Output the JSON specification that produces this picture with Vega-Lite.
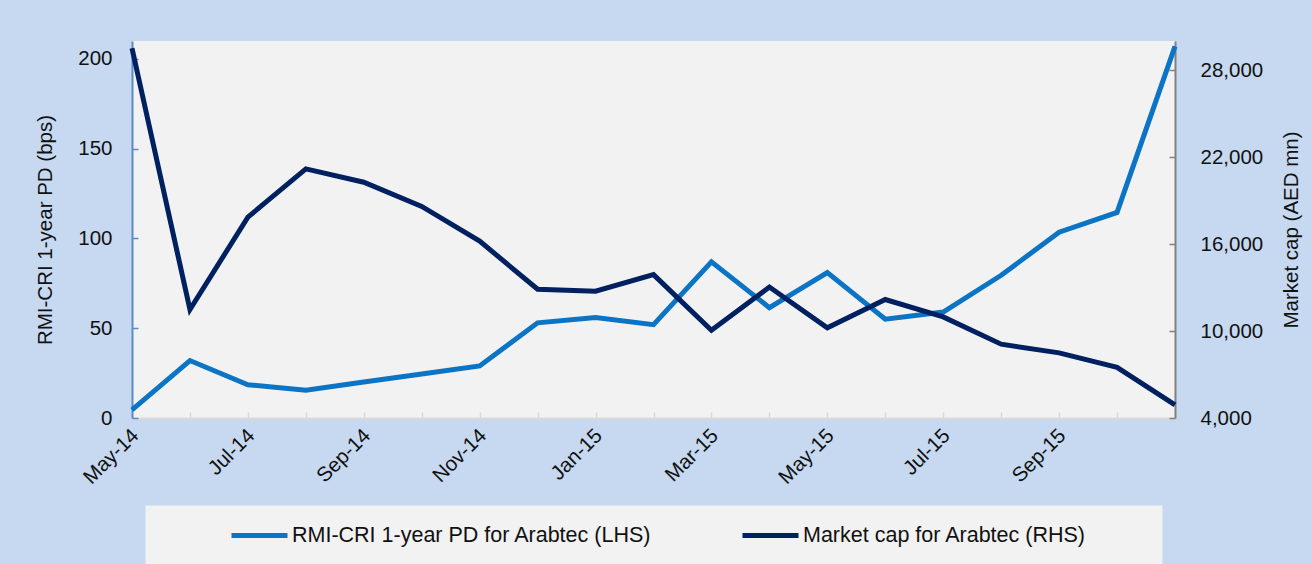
{
  "$schema": "https://vega.github.io/schema/vega-lite/v6.json",
  "width": 1043,
  "height": 377,
  "autosize": {"type": "none"},
  "padding": {"left": 132, "top": 41, "right": 137, "bottom": 146},
  "background": "#c6d9f0",
  "config": {
    "view": {"fill": "#f2f2f2", "stroke": null},
    "font": "Liberation Sans",
    "axis": {
      "labelFont": "Liberation Sans",
      "titleFont": "Liberation Sans",
      "labelFontSize": 20.5,
      "titleFontSize": 20.5,
      "labelColor": "#111111",
      "titleColor": "#111111",
      "titleFontWeight": "normal",
      "grid": false
    }
  },
  "data": {
    "values": [
      {"month": "May-14", "pd": 4.5, "mcap": 29500},
      {"month": "Jun-14", "pd": 32, "mcap": 11480},
      {"month": "Jul-14", "pd": 18.5, "mcap": 17850},
      {"month": "Aug-14", "pd": 15.5, "mcap": 21180},
      {"month": "Sep-14", "pd": 20, "mcap": 20260},
      {"month": "Oct-14", "pd": 24.5, "mcap": 18590},
      {"month": "Nov-14", "pd": 29, "mcap": 16200},
      {"month": "Dec-14", "pd": 53, "mcap": 12880},
      {"month": "Jan-15", "pd": 56, "mcap": 12740},
      {"month": "Feb-15", "pd": 52, "mcap": 13890},
      {"month": "Mar-15", "pd": 87, "mcap": 10050},
      {"month": "Apr-15", "pd": 61.5, "mcap": 13030},
      {"month": "May-15", "pd": 81, "mcap": 10220},
      {"month": "Jun-15", "pd": 55, "mcap": 12170},
      {"month": "Jul-15", "pd": 59, "mcap": 10970},
      {"month": "Aug-15", "pd": 79.5, "mcap": 9090},
      {"month": "Sep-15", "pd": 103.5, "mcap": 8490},
      {"month": "Oct-15", "pd": 114.5, "mcap": 7490},
      {"month": "Nov-15", "pd": 207, "mcap": 4900}
    ]
  },
  "encoding": {
    "x": {
      "field": "month",
      "type": "ordinal",
      "sort": null,
      "scale": {"type": "point", "padding": 0},
      "axis": {
        "title": null,
        "labelAngle": -45,
        "labelExpr": "indexof(['May-14','Jul-14','Sep-14','Nov-14','Jan-15','Mar-15','May-15','Jul-15','Sep-15'], datum.value) >= 0 ? datum.value : ''",
        "domainColor": "#d9d9d9",
        "domainWidth": 2,
        "tickColor": "#d9d9d9",
        "tickWidth": 1.5,
        "tickSize": -6,
        "labelPadding": 13,
        "labelOffset": -4
      }
    }
  },
  "layer": [
    {
      "mark": {"type": "line", "strokeWidth": 5},
      "encoding": {
        "y": {
          "field": "pd",
          "type": "quantitative",
          "scale": {"domain": [0, 210], "nice": false},
          "axis": {
            "title": "RMI-CRI 1-year PD (bps)",
            "values": [0, 50, 100, 150, 200],
            "domainColor": "#5b8bc9",
            "domainWidth": 2,
            "tickColor": "#5b8bc9",
            "tickWidth": 1.5,
            "tickSize": -6,
            "labelPadding": 26,
            "titlePadding": 22
          }
        },
        "color": {
          "datum": "RMI-CRI 1-year PD for Arabtec (LHS)",
          "type": "nominal",
          "scale": {
            "domain": ["RMI-CRI 1-year PD for Arabtec (LHS)", "Market cap for Arabtec (RHS)"],
            "range": ["#0b74c4", "#002060"]
          },
          "legend": {
            "orient": "none",
            "legendX": 13,
            "legendY": 464,
            "direction": "horizontal",
            "title": "\u00a0",
            "titleOrient": "right",
            "titleFontSize": 53,
            "titleBaseline": "top",
            "titlePadding": 76,
            "fillColor": "#f2f2f2",
            "strokeColor": "#dbe5f1",
            "padding": 0,
            "symbolType": "stroke",
            "symbolSize": 3136,
            "symbolStrokeWidth": 5,
            "symbolOffset": 84,
            "labelFont": "Liberation Sans",
            "labelFontSize": 21.5,
            "labelColor": "#111111",
            "labelOffset": 2,
            "labelLimit": 600,
            "columnPadding": 4
          }
        }
      }
    },
    {
      "mark": {"type": "line", "strokeWidth": 5},
      "encoding": {
        "y": {
          "field": "mcap",
          "type": "quantitative",
          "scale": {"domain": [4000, 30000], "nice": false, "zero": false},
          "axis": {
            "orient": "right",
            "title": "Market cap (AED mn)",
            "titleAngle": -90,
            "values": [4000, 10000, 16000, 22000, 28000],
            "format": ",.0f",
            "domainColor": "#808080",
            "domainWidth": 2,
            "tickColor": "#808080",
            "tickWidth": 1.5,
            "tickSize": -6,
            "labelPadding": 31,
            "titlePadding": 39
          }
        },
        "color": {"datum": "Market cap for Arabtec (RHS)", "type": "nominal"}
      }
    }
  ],
  "resolve": {"scale": {"y": "independent"}}
}
